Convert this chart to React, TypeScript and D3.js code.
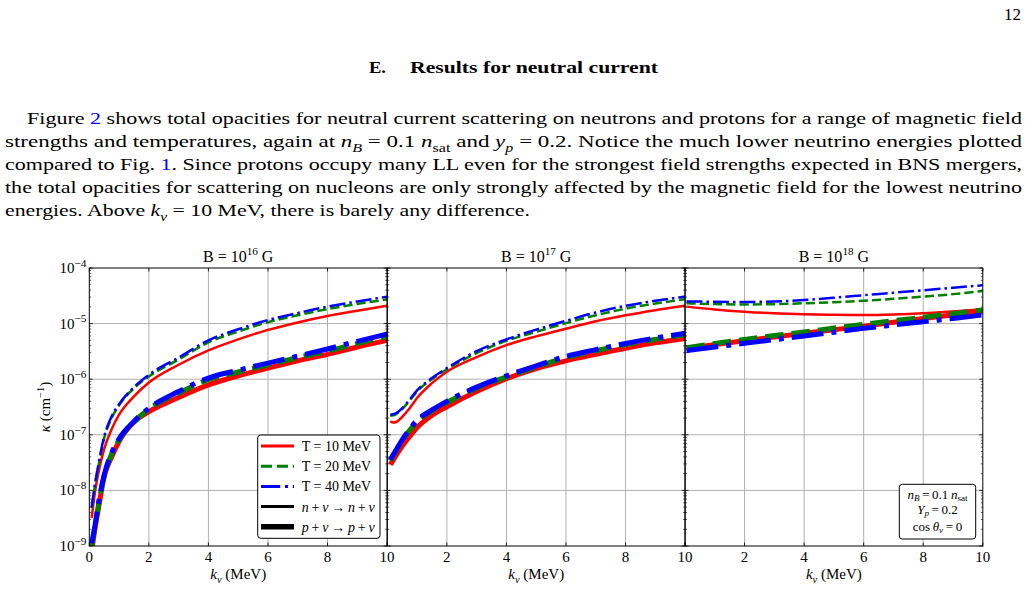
import React from "react";
import * as d3 from "d3";

// Neutrino energy grids (MeV), one per field strength
const K_B16 = [0.08, 0.2, 0.3, 0.5, 0.75, 1, 1.5, 2, 3, 4, 5, 6, 7, 8, 9, 10];
const K_B17 = [0.1, 0.2, 0.3, 0.5, 0.75, 1, 1.5, 2, 3, 4, 5, 6, 7, 8, 9, 10];
const K_B18 = [0.05, 1, 2, 3, 4, 5, 6, 7, 8, 9, 10];

// kappa (cm^-1), B = 1e16 G
const B16_N_T10 = [3.2e-9, 1.0e-8, 2.0e-8, 5.6e-8, 1.26e-7, 2.3e-7, 4.9e-7, 8.7e-7, 1.82e-6, 3.3e-6, 5.2e-6, 7.7e-6, 1.05e-5, 1.37e-5, 1.7e-5, 2.09e-5];
const B16_N_T20 = [4.8e-9, 1.32e-8, 2.6e-8, 8.7e-8, 2.0e-7, 3.4e-7, 6.9e-7, 1.12e-6, 2.26e-6, 4.6e-6, 7.2e-6, 1.06e-5, 1.41e-5, 1.82e-5, 2.26e-5, 2.72e-5];
const B16_N_T40 = [5.0e-9, 1.41e-8, 2.8e-8, 9.3e-8, 2.14e-7, 3.55e-7, 7.2e-7, 1.2e-6, 2.45e-6, 5.0e-6, 7.9e-6, 1.16e-5, 1.55e-5, 2.02e-5, 2.5e-5, 3.05e-5];
const B16_P_T10 = [7.9e-10, 2.2e-9, 4.5e-9, 1.78e-8, 4.0e-8, 7.6e-8, 1.7e-7, 2.6e-7, 4.7e-7, 7.9e-7, 1.15e-6, 1.58e-6, 2.14e-6, 2.8e-6, 3.8e-6, 5.0e-6];
const B16_P_T20 = [1.0e-9, 2.35e-9, 5.2e-9, 1.82e-8, 4.5e-8, 8.1e-8, 1.7e-7, 2.9e-7, 5.6e-7, 9.8e-7, 1.35e-6, 1.82e-6, 2.45e-6, 3.2e-6, 4.4e-6, 5.9e-6];
const B16_P_T40 = [1.12e-9, 2.5e-9, 5.6e-9, 1.9e-8, 4.7e-8, 8.5e-8, 1.74e-7, 3.0e-7, 6.0e-7, 1.05e-6, 1.45e-6, 1.95e-6, 2.6e-6, 3.5e-6, 4.8e-6, 6.5e-6];

// kappa (cm^-1), B = 1e17 G
const B17_N_T10 = [1.74e-7, 1.66e-7, 1.7e-7, 2.1e-7, 3.0e-7, 4.6e-7, 8.5e-7, 1.36e-6, 2.5e-6, 4.1e-6, 5.9e-6, 8.1e-6, 1.1e-5, 1.41e-5, 1.74e-5, 2.09e-5];
const B17_N_T20 = [2.2e-7, 2.24e-7, 2.35e-7, 2.9e-7, 4.1e-7, 6.0e-7, 1.0e-6, 1.51e-6, 2.95e-6, 4.9e-6, 7.1e-6, 1.02e-5, 1.41e-5, 1.86e-5, 2.29e-5, 2.75e-5];
const B17_N_T40 = [2.3e-7, 2.35e-7, 2.45e-7, 3.0e-7, 4.3e-7, 6.3e-7, 1.05e-6, 1.58e-6, 3.2e-6, 5.2e-6, 7.8e-6, 1.12e-5, 1.58e-5, 2.09e-5, 2.57e-5, 3.05e-5];
const B17_P_T10 = [2.9e-8, 3.5e-8, 4.3e-8, 6.2e-8, 9.3e-8, 1.35e-7, 2.24e-7, 3.2e-7, 6.0e-7, 1.02e-6, 1.55e-6, 2.14e-6, 2.8e-6, 3.6e-6, 4.5e-6, 5.4e-6];
const B17_P_T20 = [3.4e-8, 4.2e-8, 5.2e-8, 7.8e-8, 1.2e-7, 1.74e-7, 2.7e-7, 3.8e-7, 6.9e-7, 1.1e-6, 1.66e-6, 2.45e-6, 3.25e-6, 4.2e-6, 5.2e-6, 6.3e-6];
const B17_P_T40 = [3.55e-8, 4.4e-8, 5.4e-8, 8.1e-8, 1.26e-7, 1.82e-7, 2.8e-7, 4.0e-7, 7.2e-7, 1.15e-6, 1.74e-6, 2.57e-6, 3.4e-6, 4.4e-6, 5.5e-6, 6.7e-6];

// kappa (cm^-1), B = 1e18 G
const B18_N_T10 = [2.02e-5, 1.8e-5, 1.64e-5, 1.53e-5, 1.47e-5, 1.44e-5, 1.43e-5, 1.46e-5, 1.53e-5, 1.65e-5, 1.81e-5];
const B18_N_T20 = [2.32e-5, 2.25e-5, 2.21e-5, 2.24e-5, 2.32e-5, 2.43e-5, 2.57e-5, 2.79e-5, 3.05e-5, 3.39e-5, 3.85e-5];
const B18_N_T40 = [2.51e-5, 2.47e-5, 2.45e-5, 2.5e-5, 2.66e-5, 2.92e-5, 3.24e-5, 3.59e-5, 3.98e-5, 4.42e-5, 4.9e-5];
const B18_P_T10 = [3.59e-6, 4.19e-6, 4.9e-6, 5.75e-6, 6.68e-6, 7.76e-6, 9.0e-6, 1.06e-5, 1.24e-5, 1.43e-5, 1.64e-5];
const B18_P_T20 = [3.7e-6, 4.4e-6, 5.2e-6, 6.1e-6, 7.1e-6, 8.3e-6, 9.7e-6, 1.13e-5, 1.3e-5, 1.51e-5, 1.76e-5];
const B18_P_T40 = [3.26e-6, 3.8e-6, 4.42e-6, 5.13e-6, 5.96e-6, 7.0e-6, 8.22e-6, 9.44e-6, 1.08e-5, 1.24e-5, 1.43e-5];

const FIELD_EXPONENTS = ["16", "17", "18"];
const TEMPERATURES = ["10", "20", "40"];
const X_TICKS = [0, 2, 4, 6, 8, 10];
const Y_DECADES = [-9, -8, -7, -6, -5, -4];

const COLORS = ["#ff0000", "#008000", "#0000ff"];
const DASH_THIN = [null, "9.25 4", "16 4 2.5 4"];
const DASH_THICK = [null, "18.5 8", "32 8 5 8"];
const DASH_LEGEND = [null, "11.1 4.8", "19.2 4.8 3 4.8"];

const panels = [
  { k: K_B16, n: [B16_N_T10, B16_N_T20, B16_N_T40], p: [B16_P_T10, B16_P_T20, B16_P_T40] },
  { k: K_B17, n: [B17_N_T10, B17_N_T20, B17_N_T40], p: [B17_P_T10, B17_P_T20, B17_P_T40] },
  { k: K_B18, n: [B18_N_T10, B18_N_T20, B18_N_T40], p: [B18_P_T10, B18_P_T20, B18_P_T40] },
];

const SERIF = "'Liberation Serif', 'Times New Roman', serif";
const LINK = "#0000ff";
const TS = "\u2009";

type Seg = { t: string; it?: boolean; sub?: boolean; sup?: boolean; fill?: string };

function Rich(props: any) {
  const { segs, fs, subScale = 0.7, subShift = 0.28, ...rest } = props;
  let shift = 0;
  const spans = (segs as Seg[]).map((s, i) => {
    const target = s.sub ? fs * subShift : s.sup ? -fs * 0.42 : 0;
    const dy = target - shift;
    shift = target;
    return (
      <tspan
        key={i}
        dy={dy !== 0 ? dy : undefined}
        fontStyle={s.it ? "italic" : undefined}
        fontSize={s.sub || s.sup ? fs * subScale : undefined}
        fill={s.fill}
      >
        {s.t}
      </tspan>
    );
  });
  return (
    <text fontSize={fs} fontFamily={SERIF} style={{ whiteSpace: "pre" }} {...rest}>
      {spans}
    </text>
  );
}

const PARAGRAPH: { x: number; w: number; segs: Seg[] }[] = [
  {
    x: 27,
    w: 995,
    segs: [
      { t: "Figure " },
      { t: "2", fill: LINK },
      { t: " shows total opacities for neutral current scattering on neutrons and protons for a range of magnetic field" },
    ],
  },
  {
    x: 5,
    w: 1017,
    segs: [
      { t: "strengths and temperatures, again at " },
      { t: "n", it: true },
      { t: "B", it: true, sub: true },
      { t: " = 0.1 " },
      { t: "n", it: true },
      { t: "sat", sub: true },
      { t: " and " },
      { t: "y", it: true },
      { t: "p", it: true, sub: true },
      { t: " = 0.2. Notice the much lower neutrino energies plotted" },
    ],
  },
  {
    x: 5,
    w: 1017,
    segs: [
      { t: "compared to Fig. " },
      { t: "1", fill: LINK },
      { t: ". Since protons occupy many LL even for the strongest field strengths expected in BNS mergers," },
    ],
  },
  {
    x: 5,
    w: 1017,
    segs: [{ t: "the total opacities for scattering on nucleons are only strongly affected by the magnetic field for the lowest neutrino" }],
  },
  {
    x: 5,
    w: 525,
    segs: [
      { t: "energies. Above " },
      { t: "k", it: true },
      { t: "ν", it: true, sub: true },
      { t: " = 10 MeV, there is barely any difference." },
    ],
  },
];

export default function App() {
  const W = 1028;
  const H = 589;
  const lefts = [89.3, 387.3, 685];
  const pw = 297.8;
  const top = 268;
  const bottom = 546;

  const y = d3.scaleLog().domain([1e-9, 1e-4]).range([bottom, top]);
  const minorVals: number[] = [];
  for (let e = -9; e < -4; e++) for (let m = 2; m <= 9; m++) minorVals.push(m * Math.pow(10, e));

  return (
    <svg width={W} height={H} style={{ position: "absolute", left: 0, top: 0, background: "#fff" }}>
      <rect width={W} height={H} fill="#fff" />
      {/* page header and running text */}
      <text x={1021} y={20} textAnchor="end" fontFamily={SERIF} fontSize={17}>12</text>
      <text x={369} y={73} fontFamily={SERIF} fontSize={17} fontWeight="bold" textLength={17} lengthAdjust="spacingAndGlyphs">E.</text>
      <text x={410} y={73} fontFamily={SERIF} fontSize={17} fontWeight="bold" textLength={248} lengthAdjust="spacingAndGlyphs">Results for neutral current</text>
      {PARAGRAPH.map((line, i) => (
        <Rich key={i} segs={line.segs} fs={17} x={line.x} y={124 + i * 23} textLength={line.w} lengthAdjust="spacingAndGlyphs" />
      ))}

      <defs>
        {lefts.map((l, i) => (
          <clipPath id={`clip${i}`} key={i}>
            <rect x={l} y={top} width={pw} height={bottom - top} />
          </clipPath>
        ))}
      </defs>

      {panels.map((pan, pi) => {
        const l = lefts[pi];
        const x = d3.scaleLinear().domain([0, 10]).range([l, l + pw]);
        const line = d3
          .line<number>()
          .x((_, i) => x(pan.k[i]))
          .y((v) => y(v))
          .curve(d3.curveMonotoneX);
        const cx = l + pw / 2;
        const labels = pi === 0 ? X_TICKS : X_TICKS.slice(1);
        return (
          <g key={pi}>
            {/* grid */}
            {X_TICKS.slice(1, -1).map((t) => (
              <line key={"gx" + t} x1={x(t)} x2={x(t)} y1={top} y2={bottom} stroke="#b0b0b0" strokeWidth={1} />
            ))}
            {Y_DECADES.slice(1, -1).map((e) => (
              <line key={"gy" + e} x1={l} x2={l + pw} y1={y(Math.pow(10, e))} y2={y(Math.pow(10, e))} stroke="#b0b0b0" strokeWidth={1} />
            ))}
            {/* curves: thin = n + nu, thick = p + nu */}
            <g clipPath={`url(#clip${pi})`}>
              {[0, 1, 2].map((ti) => (
                <g key={ti}>
                  <path d={line(pan.n[ti]) || ""} fill="none" stroke={COLORS[ti]} strokeWidth={2.5} strokeDasharray={DASH_THIN[ti] || undefined} />
                  <path d={line(pan.p[ti]) || ""} fill="none" stroke={COLORS[ti]} strokeWidth={5} strokeDasharray={DASH_THICK[ti] || undefined} />
                </g>
              ))}
            </g>
            {/* inward ticks on all sides */}
            {minorVals.map((v, i) => (
              <g key={"mt" + i} stroke="#000" strokeWidth={0.6}>
                <line x1={l} x2={l + 2} y1={y(v)} y2={y(v)} />
                <line x1={l + pw} x2={l + pw - 2} y1={y(v)} y2={y(v)} />
              </g>
            ))}
            {Y_DECADES.map((e) => (
              <g key={"Mt" + e} stroke="#000" strokeWidth={0.8}>
                <line x1={l} x2={l + 3.5} y1={y(Math.pow(10, e))} y2={y(Math.pow(10, e))} />
                <line x1={l + pw} x2={l + pw - 3.5} y1={y(Math.pow(10, e))} y2={y(Math.pow(10, e))} />
              </g>
            ))}
            {X_TICKS.map((t) => (
              <g key={"xt" + t} stroke="#000" strokeWidth={0.8}>
                <line x1={x(t)} x2={x(t)} y1={bottom} y2={bottom - 3.5} />
                <line x1={x(t)} x2={x(t)} y1={top} y2={top + 3.5} />
              </g>
            ))}
            <rect x={l} y={top} width={pw} height={bottom - top} fill="none" stroke="#000" strokeWidth={1} />
            {labels.map((t) => (
              <text key={"xl" + t} x={x(t)} y={561.5} textAnchor="middle" fontFamily={SERIF} fontSize={15}>
                {t}
              </text>
            ))}
            <Rich
              segs={[{ t: "k", it: true }, { t: "ν", it: true, sub: true }, { t: " (MeV)" }]}
              fs={15}
              x={cx}
              y={579}
              textAnchor="middle"
            />
            <Rich
              segs={[{ t: "B = 10" }, { t: FIELD_EXPONENTS[pi], sup: true }, { t: " G" }]}
              fs={16}
              x={cx}
              y={261.5}
              textAnchor="middle"
            />
          </g>
        );
      })}

      {/* y tick labels */}
      {Y_DECADES.map((e) => (
        <Rich
          key={"yl" + e}
          segs={[{ t: "10" }, { t: "−" + Math.abs(e), sup: true }]}
          fs={15}
          subScale={0.75}
          x={86.5}
          y={y(Math.pow(10, e)) + 5}
          textAnchor="end"
        />
      ))}
      <Rich
        segs={[{ t: "κ", it: true }, { t: " (cm" }, { t: "−1", sup: true }, { t: ")" }]}
        fs={15}
        transform={`translate(50,${(top + bottom) / 2}) rotate(-90)`}
        textAnchor="middle"
      />

      {/* legend */}
      <g>
        <rect x={257.7} y={435} width={122.3} height={103.3} rx={3} fill="#fff" stroke="#000" strokeWidth={1} />
        {TEMPERATURES.map((T, i) => (
          <g key={T}>
            <line x1={261} x2={294} y1={446 + i * 20.2} y2={446 + i * 20.2} stroke={COLORS[i]} strokeWidth={3} strokeDasharray={DASH_LEGEND[i] || undefined} />
            <text x={301.7} y={451 + i * 20.2} fontFamily={SERIF} fontSize={14}>{`T = ${T} MeV`}</text>
          </g>
        ))}
        <line x1={261} x2={294} y1={446 + 3 * 20.2} y2={446 + 3 * 20.2} stroke="#000" strokeWidth={3} />
        <Rich
          segs={[{ t: "n", it: true }, { t: TS + "+" + TS }, { t: "ν", it: true }, { t: TS + "→" + TS }, { t: "n", it: true }, { t: TS + "+" + TS }, { t: "ν", it: true }]}
          fs={14}
          x={301.7}
          y={451 + 3 * 20.2}
        />
        <line x1={261} x2={294} y1={446 + 4 * 20.2} y2={446 + 4 * 20.2} stroke="#000" strokeWidth={5.5} />
        <Rich
          segs={[{ t: "p", it: true }, { t: TS + "+" + TS }, { t: "ν", it: true }, { t: TS + "→" + TS }, { t: "p", it: true }, { t: TS + "+" + TS }, { t: "ν", it: true }]}
          fs={14}
          x={301.7}
          y={451 + 4 * 20.2}
        />
      </g>

      {/* parameter box */}
      <g>
        <rect x={899.3} y={484.3} width={76.4} height={54.7} rx={3} fill="#fff" stroke="#000" strokeWidth={1} />
        <Rich
          segs={[{ t: "n", it: true }, { t: "B", it: true, sub: true }, { t: TS + "=" + TS + "0.1" + TS }, { t: "n", it: true }, { t: "sat", sub: true }]}
          fs={13}
          subShift={0.18}
          x={937.5}
          y={498.5}
          textAnchor="middle"
        />
        <Rich
          segs={[{ t: "Y", it: true }, { t: "p", it: true, sub: true }, { t: TS + "=" + TS + "0.2" }]}
          fs={13}
          subShift={0.18}
          x={937.5}
          y={514}
          textAnchor="middle"
        />
        <Rich
          segs={[{ t: "cos" + TS }, { t: "θ", it: true }, { t: "ν", it: true, sub: true }, { t: TS + "=" + TS + "0" }]}
          fs={13}
          subShift={0.18}
          x={937.5}
          y={530.5}
          textAnchor="middle"
        />
      </g>
    </svg>
  );
}
